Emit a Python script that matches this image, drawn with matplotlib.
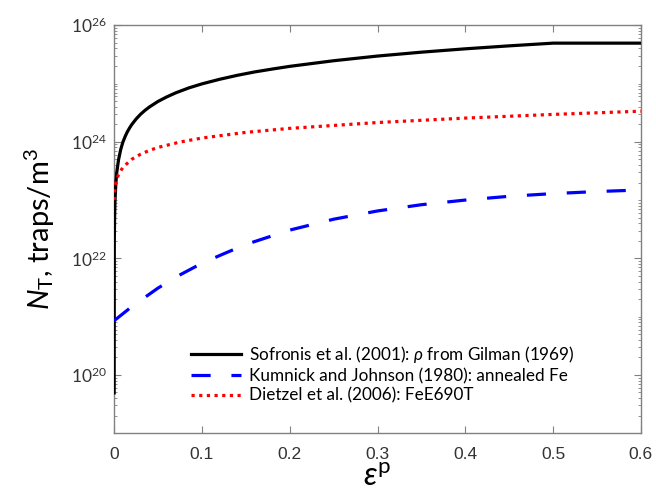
import numpy as np
import matplotlib
matplotlib.use('Agg')
import matplotlib.pyplot as plt
from matplotlib.ticker import LogLocator, FixedLocator, NullFormatter, FixedFormatter

# Sofronis et al. (2001), rho from Gilman (1969)
eps_s = [0, 0.0002, 0.0005, 0.001, 0.002, 0.003, 0.005, 0.0075, 0.01, 0.0125, 0.015, 0.0175, 0.02,
         0.025, 0.03, 0.035, 0.04, 0.05, 0.06, 0.07, 0.085, 0.1, 0.12, 0.14, 0.16, 0.18, 0.2,
         0.25, 0.3, 0.35, 0.4, 0.45, 0.5, 0.6]
nt_s = [4.9e19, 2.0e22, 4.9e22, 9.9e22, 2.0e23, 3.0e23, 4.9e23, 7.4e23, 9.9e23, 1.23e24, 1.48e24,
        1.72e24, 1.97e24, 2.46e24, 2.96e24, 3.45e24, 3.94e24, 4.93e24, 5.9e24, 6.9e24, 8.4e24,
        9.86e24, 1.18e25, 1.38e25, 1.58e25, 1.77e25, 1.97e25, 2.46e25, 2.96e25, 3.45e25,
        3.94e25, 4.43e25, 4.93e25, 4.93e25]

# Kumnick and Johnson (1980), annealed Fe
eps_k = [0, 0.02, 0.05, 0.075, 0.1, 0.125, 0.15, 0.2, 0.25, 0.3, 0.35, 0.4, 0.45, 0.5, 0.55, 0.6]
nt_k = [8.5e20, 1.48e21, 3.09e21, 5.2e21, 8.24e21, 1.2e22, 1.73e22, 3.05e22, 4.69e22, 6.5e22,
        8.32e22, 1.0e23, 1.16e23, 1.29e23, 1.4e23, 1.49e23]

# Dietzel et al. (2006), FeE690T
eps_d = [0, 0.001, 0.002, 0.005, 0.01, 0.02, 0.03, 0.04, 0.05, 0.075, 0.1, 0.15, 0.2, 0.3, 0.4,
         0.5, 0.6]
nt_d = [1.0e23, 1.66e23, 2.0e23, 2.75e23, 3.65e23, 5.0e23, 6.1e23, 7.1e23, 8.0e23, 9.9e23,
        1.16e24, 1.45e24, 1.7e24, 2.14e24, 2.55e24, 2.95e24, 3.35e24]

labels = ['Sofronis et al. (2001): $\\rho$ from Gilman (1969)',
          'Kumnick and Johnson (1980): annealed Fe',
          'Dietzel et al. (2006): FeE690T']

plt.rcParams['mathtext.fontset'] = 'custom'
plt.rcParams['mathtext.rm'] = 'Lato'
plt.rcParams['mathtext.it'] = 'Lato:italic'

fig = plt.figure(figsize=(6.56, 4.95), dpi=100)
ax = fig.add_axes([0.174, 0.125, 0.803, 0.824])

ax.plot(eps_s, nt_s, color='k', lw=2.3, label=labels[0], zorder=3)
ax.plot(eps_k, nt_k, color='#0000ff', lw=2.3, ls=(0, (6, 6.5)), label=labels[1], zorder=3)
ax.plot(eps_d, nt_d, color='#ff0000', lw=2.3, ls=(0, (1, 1.4)), label=labels[2], zorder=3)

ax.set_yscale('log')
ax.set_xlim(0, 0.6)
ax.set_ylim(1e19, 1e26)
ax.set_xticks(np.arange(0, 0.61, 0.1))
ax.set_xticklabels(['0', '0.1', '0.2', '0.3', '0.4', '0.5', '0.6'])
ax.yaxis.set_major_locator(FixedLocator([1e20, 1e22, 1e24, 1e26]))
ax.yaxis.set_major_formatter(FixedFormatter(['$10^{20}$', '$10^{22}$', '$10^{24}$', '$10^{26}$']))
ax.yaxis.set_minor_locator(LogLocator(base=10, subs=np.arange(1, 10), numticks=50))
ax.yaxis.set_minor_formatter(NullFormatter())

gray = '0.5'
for s in ax.spines.values():
    s.set_color(gray)
    s.set_linewidth(1.0)
ax.tick_params(which='both', direction='in', top=True, right=True, color=gray,
               labelcolor='0.2', labelsize=12.5)
ax.tick_params(which='major', length=5)
ax.tick_params(axis='x', pad=10)
ax.tick_params(axis='y', pad=5)
ax.tick_params(which='minor', length=2.5)
for lab in ax.get_xticklabels() + ax.get_yticklabels():
    lab.set_family(['Liberation Sans', 'DejaVu Sans'])

ax.set_xlabel('$\\varepsilon^{\\rm p}$', fontsize=23, labelpad=0)
ax.set_ylabel('$N_{\\rm T}$, traps/m$^3$', fontsize=21, family='Lato', labelpad=10)

leg = ax.legend(loc='lower left', frameon=False, prop={'family': 'Lato', 'size': 12.3},
                handlelength=2.95, handletextpad=0.45, labelspacing=0.2,
                borderaxespad=0, borderpad=0, bbox_to_anchor=(0.146, 0.072))

fig.savefig('out.png', dpi=100)
